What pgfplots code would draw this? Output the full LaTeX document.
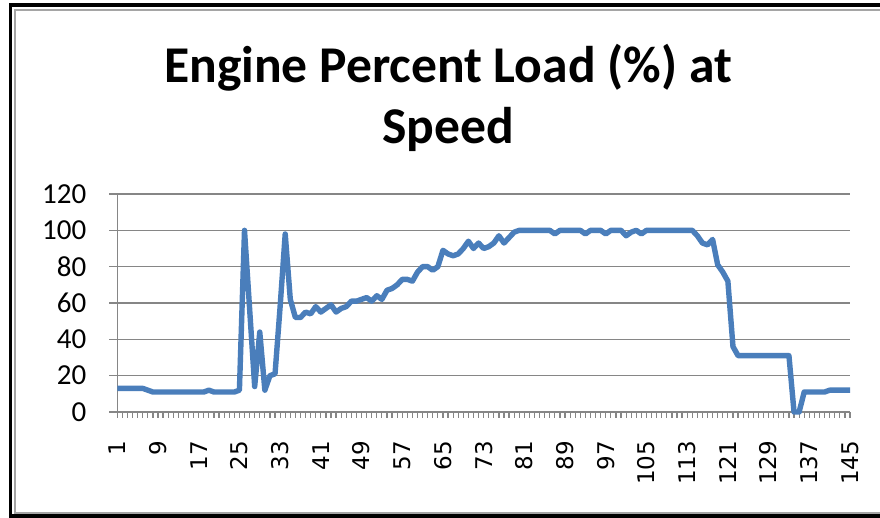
\documentclass[border=0pt]{standalone}
\usepackage{pgfplots}
\pgfplotsset{compat=1.18}
\usepackage{fontspec}
\setmainfont{Carlito}
\newfontfamily\dejavu{DejaVu Sans}

\definecolor{lineblue}{RGB}{74,126,187}
\definecolor{gridgray}{RGB}{134,134,134}
\definecolor{framegray}{RGB}{165,165,165}

\begin{document}
\begin{tikzpicture}
\useasboundingbox (0,0) rectangle (440pt,259pt);
\fill[white] (0,0) rectangle (440pt,259pt);
% double frame (right side falls outside the picture)
\draw[black, line width=1.8pt] (441pt,256.5pt) -- (5.15pt,256.5pt) -- (5.15pt,1pt) -- (441pt,1pt);
\draw[framegray, line width=1pt] (441pt,253.9pt) -- (7.5pt,253.9pt) -- (7.5pt,2.7pt) -- (441pt,2.7pt);

\node[anchor=base, font=\bfseries\fontsize{25.8}{30}\selectfont] at (224pt,217.5pt) {Engine Percent Load (\%) at};
\node[anchor=base, font=\bfseries\fontsize{25.8}{30}\selectfont] at (224pt,187.4pt) {Speed};

\begin{axis}[
  at={(58.65pt,53pt)}, anchor=south west,
  width=366.35pt, height=109pt, scale only axis,
  xmin=1, xmax=145, ymin=0, ymax=120,
  clip=false,
  xtick={1,9,...,145},
  minor xtick={1,...,145},
  ytick={0,20,...,120},
  ymajorgrids,
  grid style={gridgray, line width=0.65pt},
  axis x line*=bottom, axis y line*=left,
  axis line style={gridgray, line width=0.65pt, -},
  tick align=outside,
  major tick length=4pt,
  minor tick length=3pt,
  xtick style={/pgfplots/major tick length=3pt},
  tick style={gridgray, line width=0.6pt},
  /pgf/number format/assume math mode=true,
  yticklabel style={font=\fontsize{14.5}{16}\selectfont, anchor=east, xshift=-8pt},
  xticklabel style={yshift=-7pt, rotate=90, anchor=east, font=\dejavu\fontsize{11.5}{13}\selectfont},
]
\addplot[lineblue, line width=2.7pt, line join=round] table {
1 13
2 13
3 13
4 13
5 13
6 13
7 12
8 11
9 11
10 11
11 11
12 11
13 11
14 11
15 11
16 11
17 11
18 11
19 12
20 11
21 11
22 11
23 11
24 11
25 12
26 100
27 57
28 14
29 44
30 12
31 20
32 21
33 58
34 98
35 62
36 52
37 52
38 55
39 54
40 58
41 55
42 57
43 59
44 55
45 57
46 58
47 61
48 61
49 62
50 63
51 61
52 64
53 62
54 67
55 68
56 70
57 73
58 73
59 72
60 77
61 80
62 80
63 78
64 80
65 89
66 87
67 86
68 87
69 90
70 94
71 90
72 93
73 90
74 91
75 93
76 97
77 93
78 96
79 99
80 100
81 100
82 100
83 100
84 100
85 100
86 100
87 98
88 100
89 100
90 100
91 100
92 100
93 98
94 100
95 100
96 100
97 98
98 100
99 100
100 100
101 97
102 99
103 100
104 98
105 100
106 100
107 100
108 100
109 100
110 100
111 100
112 100
113 100
114 100
115 97
116 93
117 92
118 95
119 81
120 77
121 72
122 36
123 31
124 31
125 31
126 31
127 31
128 31
129 31
130 31
131 31
132 31
133 31
134 0
135 0
136 11
137 11
138 11
139 11
140 11
141 12
142 12
143 12
144 12
145 12
};
\end{axis}
\end{tikzpicture}
\end{document}
